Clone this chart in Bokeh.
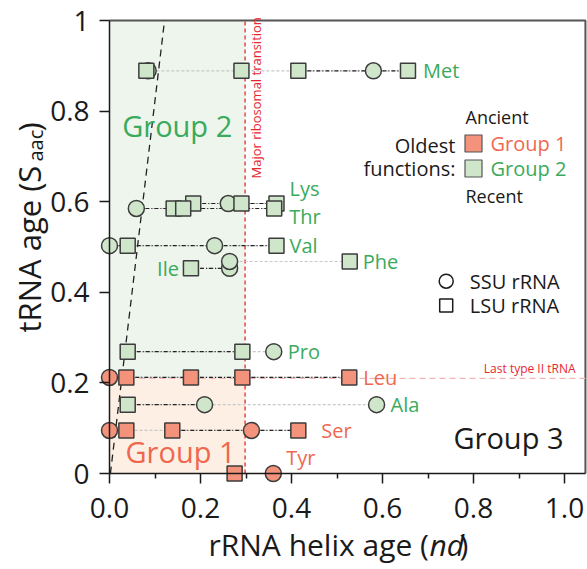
import math
from bokeh.plotting import figure
from bokeh.models import (Range1d, FixedTicker, CustomJSTickFormatter, BoxAnnotation,
                          Label, ColumnDataSource)
from bokeh.core.properties import value
from bokeh.embed import file_html
from bokeh.resources import INLINE

# ---------------- data ----------------
amino_acids = ["Met", "Lys", "Thr", "Val", "Ile", "Phe", "Pro", "Leu", "Ala", "Ser", "Tyr"]
trna_age = [0.889, 0.596, 0.585, 0.503, 0.453, 0.468, 0.269, 0.212, 0.152, 0.095, 0.0]
aa_group = [2, 2, 2, 2, 2, 2, 2, 1, 2, 1, 1]
ssu_helix_age = [[0.085, 0.580], [0.261], [0.059], [0.0, 0.231], [0.264], [0.264],
                 [0.361], [0.0], [0.209, 0.587], [0.0, 0.312], [0.360]]
lsu_helix_age = [[0.081, 0.290, 0.415, 0.656], [0.184, 0.290, 0.367], [0.141, 0.162, 0.362],
                 [0.040, 0.367], [0.179], [0.528], [0.040, 0.292],
                 [0.037, 0.179, 0.292, 0.527], [0.040], [0.037, 0.138, 0.415], [0.275]]
x_ticks = [0.0, 0.2, 0.4, 0.6, 0.8, 1.0]
x_minor_ticks = [0.1, 0.3, 0.5, 0.7, 0.9]
y_ticks = [0.0, 0.2, 0.4, 0.6, 0.8, 1.0]
x_axis_end = 1.046
y_axis_end = 1.0
major_transition = 0.298
last_type2_trna = 0.21
trend_x = [0.002, 0.121]
trend_y = [0.0, 1.0]

# ---------------- styles ----------------
FONT = "Open Sans"
GREEN_FILL = "#cfe6cb"
RED_FILL = "#f4937b"
GREEN_TXT = "#3aaa5c"
RED_TXT = "#f0674f"
RED_LINE = "#e8262d"
EDGE = "#3c3c3c"
INK = "#1a1a1a"
# black (True) / grey (False) link style for each gap between consecutive points of a row
link_black = [[False, False, False, True, True], [True, True, True], [True, True, True],
              [True, True, True], [True], [False], [True, False], [True, True, True, True],
              [True, False], [False, False, True, True], [False]]
label_dx = [15, 13, 15, 13, -12, 13, 14, 14, 14, 23, 13]
label_dy = [0, -15, 8, 0, 0, 0, 0, 0, 0, 0, -16]

# canvas geometry: the frame fills the whole canvas, axes are pinned at 0
W, H = 587, 569
X_PX0, X_SCALE = 109.0, 455.0     # canvas x of data x=0, px per unit
Y_PX0, Y_SCALE = 473.0, 453.0     # canvas y of data y=0, px per unit
X0 = -X_PX0 / X_SCALE
X1 = X0 + W / X_SCALE
Y1 = Y_PX0 / Y_SCALE
Y0 = Y1 - H / Y_SCALE


def px(cx):
    return X0 + cx / W * (X1 - X0)


def py(cy):
    return Y1 - cy / H * (Y1 - Y0)


p = figure(width=W, height=H, x_range=Range1d(X0, X1), y_range=Range1d(Y0, Y1),
           output_backend="svg", toolbar_location=None, title=None,
           min_border=0, min_border_left=0, min_border_right=0,
           min_border_top=0, min_border_bottom=0)
p.xgrid.grid_line_color = None
p.ygrid.grid_line_color = None
p.outline_line_color = None
p.background_fill_color = "white"
p.border_fill_color = "white"

for ax in (p.xaxis, p.yaxis):
    ax.fixed_location = 0
    ax.axis_line_color = INK
    ax.axis_line_width = 1.5
    ax.major_tick_line_color = INK
    ax.major_tick_line_width = 1.5
    ax.major_tick_in = 0
    ax.major_tick_out = 10
    ax.major_label_text_font = FONT
    ax.major_label_text_font_size = "28px"
    ax.major_label_text_color = INK

p.xaxis.bounds = (0, x_axis_end)
p.yaxis.bounds = (0, y_axis_end)
p.xaxis.ticker = FixedTicker(ticks=x_ticks, minor_ticks=x_minor_ticks)
p.xaxis.formatter = CustomJSTickFormatter(code="return tick.toFixed(1);")
p.xaxis.minor_tick_in = 0
p.xaxis.minor_tick_out = 5
p.xaxis.minor_tick_line_color = INK
p.xaxis.minor_tick_line_width = 1.5
p.xaxis.major_label_standoff = 14
p.yaxis.ticker = FixedTicker(ticks=y_ticks, minor_ticks=[])
p.yaxis.formatter = CustomJSTickFormatter(
    code="return (Math.abs(tick) < 1e-9 || Math.abs(tick - 1) < 1e-9) ? tick.toFixed(0) : tick.toFixed(1);")
p.yaxis.minor_tick_line_color = None
p.yaxis.major_label_standoff = 10

# shaded regions
p.add_layout(BoxAnnotation(left=0, right=major_transition, bottom=last_type2_trna, top=y_axis_end,
                           fill_color="#edf5ec", fill_alpha=1, line_color=None, level="underlay"))
p.add_layout(BoxAnnotation(left=0, right=major_transition, bottom=0, top=last_type2_trna,
                           fill_color="#fdefe3", fill_alpha=1, line_color=None, level="underlay"))

# frame top / right border
p.line([0, x_axis_end, x_axis_end], [y_axis_end, y_axis_end, 0], line_color="#555555", line_width=2)

# reference lines
p.segment(x0=[0], y0=[last_type2_trna], x1=[x_axis_end], y1=[last_type2_trna],
          line_color="#f6b3b3", line_dash="6 4", line_width=1.2)
p.segment(x0=[major_transition], y0=[0], x1=[major_transition], y1=[y_axis_end],
          line_color=RED_LINE, line_dash="4 3", line_width=1.3)
p.line(trend_x, trend_y, line_color="#222222", line_dash="7 5", line_width=1.3)

# links between the points of each tRNA row
gx0, gx1, gy = [], [], []
bx0, bx1, by = [], [], []
for i, y in enumerate(trna_age):
    xs = sorted(ssu_helix_age[i] + lsu_helix_age[i])
    gx0.append(xs[0]); gx1.append(xs[-1]); gy.append(y)
    for k in range(len(xs) - 1):
        if link_black[i][k]:
            bx0.append(xs[k]); bx1.append(xs[k + 1]); by.append(y)
p.segment(x0=gx0, y0=gy, x1=gx1, y1=gy, line_color="#c8c8c8", line_dash="3 2", line_width=1.2)
p.segment(x0=bx0, y0=by, x1=bx1, y1=by, line_color="#222222", line_dash="4 2 1 2", line_width=1.2)

# points
sx, sy, sc, lx, ly, lc = [], [], [], [], [], []
for i, y in enumerate(trna_age):
    col = RED_FILL if aa_group[i] == 1 else GREEN_FILL
    for x in ssu_helix_age[i]:
        sx.append(x); sy.append(y); sc.append(col)
    for x in lsu_helix_age[i]:
        lx.append(x); ly.append(y); lc.append(col)
p.scatter(sx, sy, marker="circle", size=16, fill_color=sc, line_color=EDGE, line_width=1.5)
p.scatter(lx, ly, marker="square", size=15, fill_color=lc, line_color=EDGE, line_width=1.5)

# amino-acid labels
tx, ty, tcol, talign = [], [], [], []
for i, y in enumerate(trna_age):
    xs = ssu_helix_age[i] + lsu_helix_age[i]
    if label_dx[i] < 0:
        tx.append(min(xs)); talign.append("right")
    else:
        tx.append(max(xs)); talign.append("left")
    ty.append(y)
    tcol.append(RED_TXT if aa_group[i] == 1 else GREEN_TXT)
src = ColumnDataSource(dict(x=tx, y=ty, text=amino_acids, color=tcol, align=talign,
                            dx=label_dx, dy=label_dy))
p.text(x="x", y="y", text="text", source=src, text_color="color", text_align="align",
       x_offset="dx", y_offset="dy", text_baseline="middle", text_font=value(FONT),
       text_font_size="20px")


def lab(cx, cy, text, size, color, align="left", baseline="middle", angle=0.0, style="normal"):
    p.add_layout(Label(x=px(cx), y=py(cy), text=text, text_font=FONT, text_font_size=f"{size}px",
                       text_color=color, text_align=align, text_baseline=baseline,
                       angle=angle, text_font_style=style))


lab(121.7, 125, "Group 2", 29, GREEN_TXT)
lab(125, 451, "Group 1", 29, RED_TXT)
lab(563, 437, "Group 3", 29, INK, align="right")

# "Oldest functions" legend
lab(465, 116.7, "Ancient", 18, INK)
lab(455, 145, "Oldest", 20, INK, align="right")
lab(455, 168, "functions:", 20, INK, align="right")
p.scatter([px(473), px(473)], [py(143), py(168)], marker="square", size=17,
          fill_color=[RED_FILL, GREEN_FILL], line_color="#555555", line_width=1.2)
lab(490, 143, "Group 1", 20, RED_TXT)
lab(490, 168, "Group 2", 20, GREEN_TXT)
lab(465, 195, "Recent", 18, INK)

# SSU / LSU legend
p.scatter([px(445.7)], [py(280.7)], marker="circle", size=14, fill_color="white",
          line_color=INK, line_width=1.5)
p.scatter([px(445.7)], [py(305)], marker="square", size=13, fill_color="white",
          line_color=INK, line_width=1.5)
lab(469.3, 280.7, "SSU rRNA", 20, INK)
lab(469.3, 305, "LSU rRNA", 20, INK)

# reference-line annotations
lab(575, 368.3, "Last type II tRNA", 12, RED_LINE, align="right")
lab(246, 178, "Major ribosomal transition", 13, RED_LINE, baseline="top", angle=math.pi / 2)

# axis titles (composed for italics / subscript)
xt0 = 208
lab(xt0, 544, "rRNA helix age (", 30, INK)
lab(xt0 + 221, 544, "nd", 30, INK, style="italic")
lab(xt0 + 251, 544, ")", 30, INK)

yt0 = 332
lab(28, yt0, "tRNA age (S", 31, INK, angle=math.pi / 2)
lab(35, yt0 - 171, "aac", 20, INK, angle=math.pi / 2)
lab(28, yt0 - 201, ")", 31, INK, angle=math.pi / 2)

open("out.html", "w").write(file_html(p, INLINE))
